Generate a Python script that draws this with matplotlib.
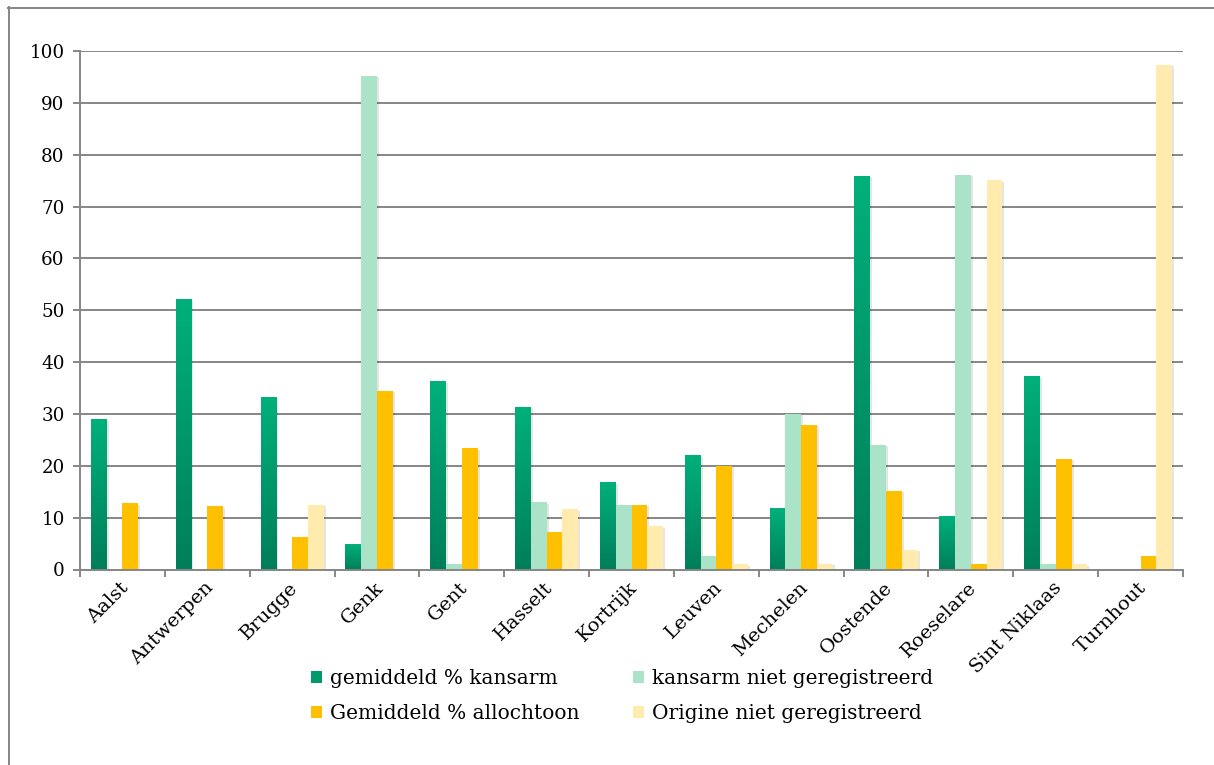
import numpy as np
import matplotlib
matplotlib.use("Agg")
import matplotlib.pyplot as plt
from matplotlib.colors import LinearSegmentedColormap
from matplotlib.patches import Rectangle
from matplotlib.lines import Line2D
import matplotlib.transforms as mtransforms

# --- data -------------------------------------------------------------
cities = ["Aalst", "Antwerpen", "Brugge", "Genk", "Gent", "Hasselt", "Kortrijk",
          "Leuven", "Mechelen", "Oostende", "Roeselare", "Sint Niklaas", "Turnhout"]
kansarm = [29.0, 52.2, 33.3, 5.0, 36.3, 31.4, 16.8, 22.0, 11.9, 75.9, 10.4, 37.3, 0.0]
kansarm_niet_geregistreerd = [0.0, 0.0, 0.0, 95.2, 1.0, 13.0, 12.5, 2.7, 30.0, 24.1, 76.1, 1.0, 0.0]
allochtoon = [12.8, 12.2, 6.2, 34.5, 23.4, 7.3, 12.5, 20.0, 27.9, 15.2, 1.0, 21.4, 2.7]
origine_niet_geregistreerd = [0.0, 0.0, 12.5, 0.0, 0.0, 11.6, 8.3, 1.0, 1.1, 3.8, 75.1, 1.0, 97.3]
series_labels = ["gemiddeld % kansarm", "kansarm niet geregistreerd",
                 "Gemiddeld % allochtoon", "Origine niet geregistreerd"]
y_ticks = [0, 10, 20, 30, 40, 50, 60, 70, 80, 90, 100]

# --- style ------------------------------------------------------------
GREEN_TOP, GREEN_BOTTOM = "#00B07B", "#007E5A"
LIGHT_GREEN = "#ABE3C9"
GOLD = "#FFC000"
LIGHT_YELLOW = "#FFEBAE"
GRID = "#868686"
FONT = "DejaVu Serif"

green_cmap = LinearSegmentedColormap.from_list("green", [GREEN_BOTTOM, GREEN_TOP])

W, H = 1214, 765
fig = plt.figure(figsize=(W / 100, H / 100), dpi=100)
ax = fig.add_axes([80 / W, 1 - 569.5 / H, (1183 - 80) / W, (569.5 - 51) / H])

n = len(cities)
bar_w = 0.186
offsets = (np.arange(4) - 1.5) * bar_w
x = np.arange(n) + 0.5

ax.set_xlim(0, n)
ax.set_ylim(0, 100)

shadow_off = mtransforms.offset_copy(ax.transData, fig=fig, x=2.0, y=-1.5, units="dots")


def draw_bar(xc, h, color=None, gradient=False):
    if h <= 0:
        return
    x0 = xc - bar_w / 2
    ax.add_patch(Rectangle((x0, 0), bar_w, h, facecolor="black", alpha=0.10,
                           edgecolor="none", transform=shadow_off, zorder=2))
    if gradient:
        grad = np.linspace(0, 1, 256).reshape(-1, 1)
        ax.imshow(grad, extent=[x0, x0 + bar_w, 0, h], origin="lower",
                  aspect="auto", cmap=green_cmap, zorder=3, interpolation="bilinear")
    else:
        ax.add_patch(Rectangle((x0, 0), bar_w, h, facecolor=color,
                               edgecolor="none", zorder=3))


for i in range(n):
    draw_bar(x[i] + offsets[0], kansarm[i], gradient=True)
    draw_bar(x[i] + offsets[1], kansarm_niet_geregistreerd[i], LIGHT_GREEN)
    draw_bar(x[i] + offsets[2], allochtoon[i], GOLD)
    draw_bar(x[i] + offsets[3], origine_niet_geregistreerd[i], LIGHT_YELLOW)

ax.set_xlim(0, n)
ax.set_ylim(0, 100)

# grid, spines, ticks
ax.set_yticks(y_ticks)
ax.yaxis.grid(True, color=GRID, linewidth=1.4, zorder=0)
ax.set_axisbelow(True)
for side in ("top", "right"):
    ax.spines[side].set_visible(False)
for side in ("left", "bottom"):
    ax.spines[side].set_color(GRID)
    ax.spines[side].set_linewidth(1.4)
    ax.spines[side].set_zorder(4)

ax.set_xticks(np.arange(n + 1))
ax.set_xticklabels([])
ax.tick_params(axis="both", which="major", color=GRID, width=1.4, length=5, direction="out")
ax.tick_params(axis="y", labelsize=13.2, pad=6)
for lbl in ax.get_yticklabels():
    lbl.set_fontfamily(FONT)

label_off = mtransforms.offset_copy(ax.get_xaxis_transform(), fig=fig, x=-3, y=-9, units="dots")
for xi, name in zip(x, cities):
    ax.text(xi, 0, name, rotation=45, ha="right", va="top", rotation_mode="anchor",
            transform=label_off, fontsize=14, family=FONT)

# legend
handles = [
    Rectangle((0, 0), 1, 1, facecolor="#009A6B", edgecolor="none"),
    Rectangle((0, 0), 1, 1, facecolor=GOLD, edgecolor="none"),
    Rectangle((0, 0), 1, 1, facecolor=LIGHT_GREEN, edgecolor="none"),
    Rectangle((0, 0), 1, 1, facecolor=LIGHT_YELLOW, edgecolor="none"),
]
labels = [series_labels[0], series_labels[2], series_labels[1], series_labels[3]]
fig.legend(handles, labels, ncol=2, loc="upper left",
           bbox_to_anchor=(311 / W, 1 - 669 / H), frameon=False,
           prop={"family": FONT, "size": 14.5},
           handlelength=0.55, handleheight=0.55, handletextpad=0.4,
           columnspacing=2.65, labelspacing=0.78, borderpad=0, borderaxespad=0)

# chart frame (top and left edges)
fig.add_artist(Line2D([8.5 / W, 8.5 / W], [0, 1 - 7 / H], transform=fig.transFigure,
                      color=GRID, linewidth=1.4))
fig.add_artist(Line2D([8 / W, 1], [1 - 7.5 / H, 1 - 7.5 / H], transform=fig.transFigure,
                      color=GRID, linewidth=1.4))

fig.savefig("out.png", dpi=100, facecolor="white")
